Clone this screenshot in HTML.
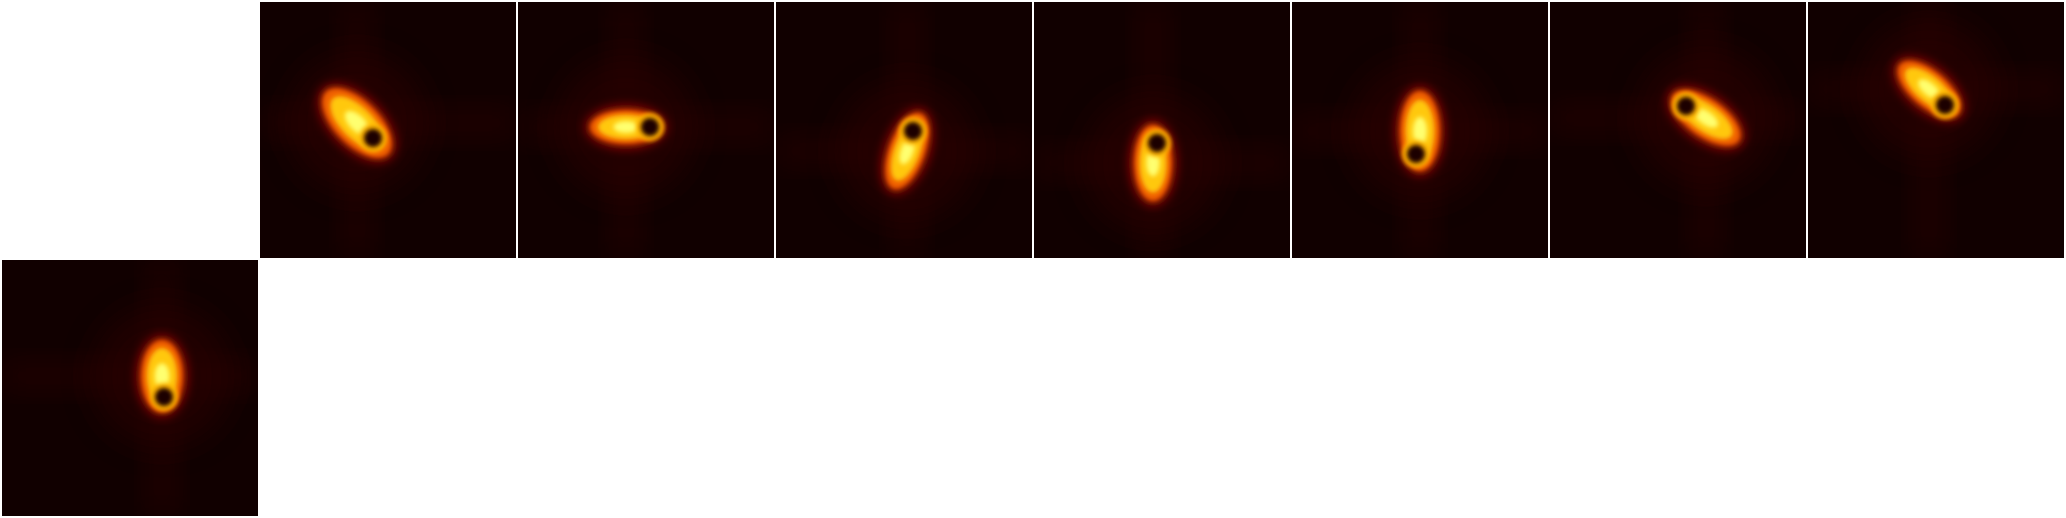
<!DOCTYPE html>
<html><head><meta charset="utf-8"><style>
html,body{margin:0;padding:0;background:#fff;width:2066px;height:518px;overflow:hidden}
svg{display:block}
</style></head><body>
<svg id="fig" width="2066" height="518" xmlns="http://www.w3.org/2000/svg">
<defs>
<filter id="b6" x="-50%" y="-50%" width="200%" height="200%"><feGaussianBlur stdDeviation="5"/></filter>
<filter id="b3" x="-50%" y="-50%" width="200%" height="200%"><feGaussianBlur stdDeviation="2.5"/></filter>
<filter id="b15" x="-50%" y="-50%" width="200%" height="200%"><feGaussianBlur stdDeviation="15"/></filter>
</defs>
</svg>
<script>
// panel grid slots (column,row)
const cols = [1,2,3,4,5,6,7,0];
const rows = [0,0,0,0,0,0,0,1];
// blob centre in panel units (0..256)
const blobX = [97,108,131,119,128,156,121,160];
const blobY = [121,125,149,161,129,116,87,116];
// hole centre
const holeX = [113,132,137,123,124,136,137,162];
const holeY = [136,125,129,141,152,104,103,137];
// orientation (deg) and half-length / half-width
const angle = [45,0,-70,90,90,35,40,90];
const halfLen = [44,36,40,38,40,40,38,36];
const halfWid = [22,17,18,19,20,19,18,21];

const svg = document.getElementById('fig');
const NS = 'http://www.w3.org/2000/svg';
const P = 256, pitch = 258, off = 2;
function mk(tag, attrs){const e=document.createElementNS(NS,tag);for(const k in attrs)e.setAttribute(k,attrs[k]);return e;}

for(let i=0;i<cols.length;i++){
  const x0 = off + cols[i]*pitch, y0 = off + rows[i]*pitch;
  const g = mk('g',{transform:`translate(${x0},${y0})`});
  
  
  const cp = mk('clipPath',{id:'cp'+i}); cp.appendChild(mk('rect',{x:0,y:0,width:P,height:P}));
  g.appendChild(cp);
  const inner = mk('g',{'clip-path':`url(#cp${i})`});
  inner.appendChild(mk('rect',{x:0,y:0,width:P,height:P,fill:'#110000'}));
  inner.appendChild(mk('rect',{x:0,y:blobY[i]-14,width:P,height:28,fill:'#3a0300',opacity:0.35,filter:'url(#b15)'}));
  inner.appendChild(mk('rect',{x:blobX[i]-14,y:0,width:28,height:P,fill:'#3a0300',opacity:0.35,filter:'url(#b15)'}));
  inner.appendChild(mk('circle',{cx:blobX[i],cy:blobY[i],r:70,fill:'#2a0200',opacity:0.6,filter:'url(#b15)'}));
  const bg = mk('g',{transform:`translate(${blobX[i]},${blobY[i]}) rotate(${angle[i]})`});
  bg.appendChild(mk('ellipse',{cx:0,cy:0,rx:halfLen[i]+5,ry:halfWid[i]+5,fill:'#8a0c00',filter:'url(#b6)'}));
  bg.appendChild(mk('ellipse',{cx:0,cy:0,rx:halfLen[i],ry:halfWid[i],fill:'#f06000',filter:'url(#b3)'}));
  bg.appendChild(mk('ellipse',{cx:0,cy:0,rx:halfLen[i]*0.78,ry:halfWid[i]*0.72,fill:'#ffc810',filter:'url(#b3)'}));
  bg.appendChild(mk('ellipse',{cx:0,cy:0,rx:halfLen[i]*0.35,ry:halfWid[i]*0.35,fill:'#ffff70',filter:'url(#b3)'}));
  inner.appendChild(bg);
  const ring = mk('circle',{cx:holeX[i],cy:holeY[i],r:14,fill:'#ffb000',filter:'url(#b3)'});
  
  
  inner.appendChild(ring);
  const hole = mk('circle',{cx:holeX[i],cy:holeY[i],r:9,fill:'#1a0000',filter:'url(#b3)'});
  
  
  inner.appendChild(hole);
  g.appendChild(inner);
  svg.appendChild(g);
}
</script>
</body></html>
